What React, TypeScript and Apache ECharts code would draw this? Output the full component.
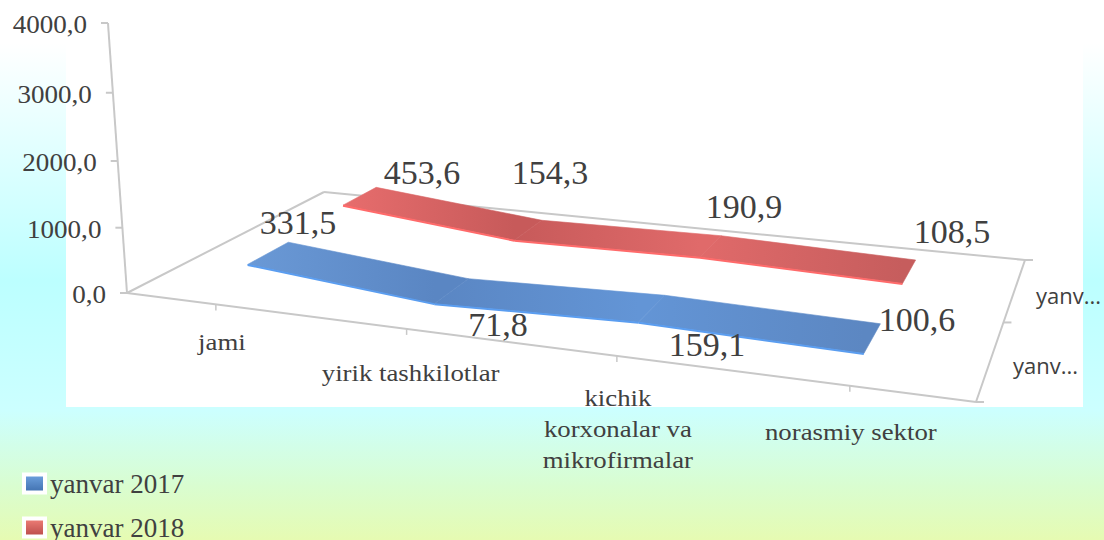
import React, { useEffect, useRef } from "react";
import * as echarts from "echarts";

const categories = ["jami", "yirik tashkilotlar", "kichik\nkorxonalar va\nmikrofirmalar", "norasmiy sektor"];
const values2017 = [331.5, 71.8, 159.1, 100.6];
const values2018 = [453.6, 154.3, 190.9, 108.5];
const yTicks = [0, 1000, 2000, 3000, 4000];
const seriesNames = ["yanvar 2017", "yanvar 2018"];
const depthLabels = ["yanv...", "yanv..."];

// layout only
const GRID_W = 1000;
const GRID_H = 500;
const P00 = [127, 293];
const P10 = [976, 402];
const P11 = [1025, 260];
const P01 = [324, 192];
const RISE = 270;
const RISE_PERSPECTIVE = 0.045;
const LEAN_X = 550;
const LEAN_D = 6000;
const BANDS = [[0.15, 0.35], [0.65, 0.85]];
const catLabelY = [342, 373, 429, 432];
const catLabelDx = [6, 4, 1, 1];
const labelPos2017 = [[298, 222], [498, 324], [707, 344], [917, 319]];
const labelPos2018 = [[422, 172], [550, 172], [744, 206], [952, 231]];
const depthLabelPos = [[1013, 365], [1036, 295]];
const shades = [
  ["#6a99d6", "#5a86c3", "#6395d6", "#5c87c2"],
  ["#e76d6d", "#c75a5a", "#e06a6a", "#c65d5d"],
];
const lipColors = ["#5a9df0", "#ff6a6a"];
const legendColors = [
  ["#6fa3e0", "#3f6fae"],
  ["#f08078", "#b84a48"],
];
const TEXT = "#404040";
const AXIS = "#c8c8c8";
const SERIF = "'Liberation Serif', serif";

const dx1 = P10[0] - P11[0], dx2 = P01[0] - P11[0], sx = P00[0] - P10[0] + P11[0] - P01[0];
const dy1 = P10[1] - P11[1], dy2 = P01[1] - P11[1], sy = P00[1] - P10[1] + P11[1] - P01[1];
const det = dx1 * dy2 - dx2 * dy1;
const G = (sx * dy2 - dx2 * sy) / det;
const H = (dx1 * sy - sx * dy1) / det;
const A = P10[0] - P00[0] + G * P10[0];
const B = P01[0] - P00[0] + H * P01[0];
const C = P10[1] - P00[1] + G * P10[1];
const D = P01[1] - P00[1] + H * P01[1];

function project(u: number, v: number, t: number) {
  const w = 1 + G * u + H * v;
  const x = (P00[0] + A * u + B * v) / w;
  const y = (P00[1] + C * u + D * v) / w;
  const r = (t * RISE) / (1 + RISE_PERSPECTIVE * (1 - t)) / w;
  return [x - (r * (LEAN_X - x)) / LEAN_D, y - r];
}
const toU = (px: number) => px / GRID_W;
const toT = (py: number) => (GRID_H - py) / GRID_H;
const line = (a: number[], b: number[], width = 2) => ({
  type: "line",
  shape: { x1: a[0], y1: a[1], x2: b[0], y2: b[1] },
  style: { stroke: AXIS, lineWidth: width },
});
const text = (s: string, x: number, y: number, font: string, align = "center", lineHeight?: number, scaleX = 1) => ({
  type: "text",
  x,
  y,
  scaleX,
  style: { text: s, x: 0, y: 0, fill: TEXT, font, align, verticalAlign: "middle", lineHeight },
});

function ribbonSeries(idx: number, values: number[]) {
  const [v0, v1] = BANDS[idx];
  const data = values.slice(0, -1).map((val, i) => [i, val, values[i + 1]]);
  return {
    type: "custom",
    name: seriesNames[idx],
    coordinateSystem: "cartesian2d",
    clip: false,
    silent: true,
    itemStyle: { color: shades[idx][0] },
    encode: { x: 0, y: 1 },
    data,
    renderItem: (_: any, api: any) => {
      const i = api.value(0);
      const a = api.coord([i, api.value(1)]);
      const b = api.coord([i + 1, api.value(2)]);
      const ua = toU(a[0]), ta = toT(a[1]), ub = toU(b[0]), tb = toT(b[1]);
      const p1 = project(ua, v0, ta);
      const p2 = project(ub, v0, tb);
      const p3 = project(ub, v1, tb);
      const p4 = project(ua, v1, ta);
      const fill = new (echarts as any).graphic.LinearGradient(p1[0], 0, p2[0], 0, [
        { offset: 0, color: shades[idx][i] },
        { offset: 1, color: shades[idx][i + 1] },
      ], true);
      return {
        type: "group",
        children: [
          { type: "polygon", shape: { points: [p1, p2, p3, p4] }, style: { fill, stroke: fill, lineWidth: 0.6 } },
          { type: "polyline", shape: { points: [[p1[0], p1[1] + 0.5], [p2[0], p2[1] + 0.5]] }, style: { stroke: lipColors[idx], lineWidth: 2, fill: "none" } },
        ],
      };
    },
  };
}

function labelSeries(values: number[], positions: number[][]) {
  return {
    type: "custom",
    coordinateSystem: "cartesian2d",
    clip: false,
    silent: true,
    z: 5,
    encode: { x: 0, y: 1 },
    data: values.map((val, i) => [i, val]),
    renderItem: (_: any, api: any) => {
      const i = api.value(0);
      const s = api.value(1).toFixed(1).replace(".", ",");
      return text(s, positions[i][0], positions[i][1], `34px ${SERIF}`);
    },
  };
}

const frameSeries = {
  type: "custom",
  coordinateSystem: "cartesian2d",
  clip: false,
  silent: true,
  encode: { x: 0, y: 1 },
  data: [[0, 0]],
  renderItem: (_: any, api: any) => {
    const children: any[] = [
      line(project(0, 0, 0), project(0, 0, 1)),
      line(project(0, 0, 0), project(1, 0, 0)),
      line(project(1, 0, 0), project(1, 1, 0)),
      line(project(1, 1, 0), project(0, 1, 0)),
      line(project(0, 1, 0), project(0, 0, 0)),
    ];
    yTicks.forEach((tick) => {
      const c = api.coord([0, tick]);
      const p = project(0, 0, toT(c[1]));
      children.push(line(p, [p[0] - 7, p[1]]));
      children.push(text(tick.toFixed(1).replace(".", ","), p[0] - 21, p[1] + 1, `26px ${SERIF}`, "right", undefined, 1.04));
    });
    categories.forEach((name, i) => {
      const c = api.coord([i, 0]);
      const p = project(toU(c[0]), 0, 0);
      children.push(line(p, [p[0], p[1] + 6], 1.5));
      const isMulti = name.includes("\n");
      children.push(text(name, p[0] + catLabelDx[i], catLabelY[i], `24px ${SERIF}`, "center", isMulti ? 31 : undefined, 1.116));
    });
    [0, 0.5, 1].forEach((v) => {
      const p = project(1, v, 0);
      children.push(line(p, [p[0] + 8, p[1]]));
    });
    depthLabels.forEach((s, i) => {
      children.push(text(s, depthLabelPos[i][0], depthLabelPos[i][1], "22px 'Open Sans', sans-serif", "left"));
    });
    return { type: "group", children };
  },
};

export default function App() {
  const ref = useRef<HTMLDivElement>(null);
  useEffect(() => {
    const chart = echarts.init(ref.current!, undefined, { renderer: "svg" });
    chart.setOption({
      animation: false,
      backgroundColor: new (echarts as any).graphic.LinearGradient(0, 0, 0, 1, [
        { offset: 0, color: "#ffffff" },
        { offset: 0.08, color: "#ffffff" },
        { offset: 0.52, color: "#bcffff" },
        { offset: 0.76, color: "#ccffff" },
        { offset: 0.9, color: "#d9fdd0" },
        { offset: 1, color: "#e6fbb2" },
      ]),
      grid: { left: 0, top: 0, width: GRID_W, height: GRID_H, show: false },
      xAxis: { type: "category", data: categories, show: false, boundaryGap: true },
      yAxis: { type: "value", min: 0, max: 4000, interval: 1000, show: false },
      graphic: [
        { type: "rect", z: -10, shape: { x: 66, y: 0, width: 1017, height: 407 }, style: { fill: "#ffffff" } },
      ],
      legend: {
        left: 22,
        top: 470,
        height: 100,
        padding: 0,
        orient: "vertical",
        itemWidth: 21,
        itemHeight: 18,
        itemGap: 17,
        selectedMode: false,
        textStyle: { color: TEXT, fontFamily: SERIF, fontSize: 27 },
        data: seriesNames.map((name, i) => ({
          name,
          icon: "rect",
          itemStyle: {
            color: new (echarts as any).graphic.LinearGradient(0, 0, 0, 1, [
              { offset: 0, color: legendColors[i][0] },
              { offset: 1, color: legendColors[i][1] },
            ]),
            borderColor: "#ffffff",
            borderWidth: 4,
          },
        })),
      },
      series: [
        frameSeries,
        ribbonSeries(0, values2017),
        ribbonSeries(1, values2018),
        labelSeries(values2017, labelPos2017),
        labelSeries(values2018, labelPos2018),
      ],
    });
    return () => chart.dispose();
  }, []);
  return <div ref={ref} style={{ position: "fixed", left: 0, top: 0, width: 1104, height: 540 }} />;
}
